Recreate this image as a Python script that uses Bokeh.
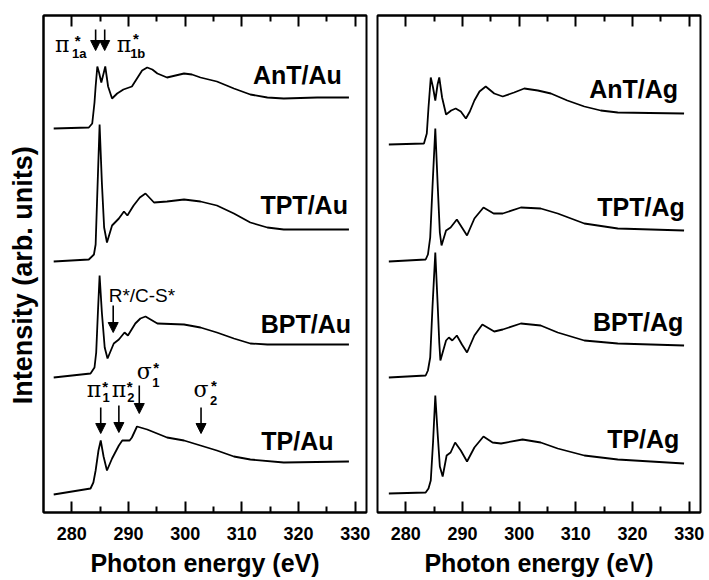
from bokeh.plotting import figure
from bokeh.layouts import row, column
from bokeh.models import Range1d, LinearAxis, FixedTicker, Arrow, NormalHead
from bokeh.core.properties import value
from bokeh.embed import file_html
from bokeh.resources import INLINE

# ---------------- data (photon energy in eV, intensity in arb. units, stacked) -------------
ant_au_e = [276.8, 283.0, 283.6, 284.0, 284.2, 284.5, 284.8, 285.2, 285.6, 285.9, 286.4, 287.1, 288.0,
            289.1, 290.6, 291.5, 292.4, 293.3, 294.2, 295.1, 296.8, 298.3, 299.8, 301.2, 302.7, 305.6,
            308.6, 311.5, 314.5, 317.4, 323.3, 328.9]
ant_au_i = [38.4, 38.5, 38.9, 41.0, 42.6, 44.6, 44.0, 43.0, 43.9, 44.6, 42.6, 41.4, 41.9,
            42.3, 42.6, 43.4, 44.2, 44.5, 44.3, 43.9, 43.5, 43.7, 43.9, 43.8, 43.5, 43.1,
            42.4, 41.8, 41.5, 41.4, 41.5, 41.5]

tpt_au_e = [276.8, 283.0, 283.9, 284.2, 284.5, 284.9, 285.3, 285.7, 286.2, 287.1, 288.3, 289.2,
            289.8, 290.9, 292.0, 293.0, 294.5, 296.8, 299.8, 302.7, 305.6, 308.6, 311.5, 314.5,
            317.4, 328.9]
tpt_au_i = [25.1, 25.3, 25.8, 26.8, 32.0, 38.8, 33.0, 28.5, 27.0, 28.7, 29.4, 30.1,
            29.7, 30.7, 31.5, 31.9, 31.0, 31.1, 31.3, 31.1, 30.7, 29.9, 29.0, 28.5,
            28.3, 28.3]

bpt_au_e = [276.8, 283.3, 284.0, 284.3, 284.6, 284.9, 285.3, 285.8, 286.3, 287.4, 288.3, 289.3,
            289.9, 291.2, 292.1, 293.0, 295.1, 299.8, 302.7, 305.6, 308.6, 311.5, 314.5, 328.9]
bpt_au_i = [13.5, 13.9, 14.5, 16.0, 20.0, 23.7, 20.0, 16.5, 15.4, 16.9, 17.3, 18.0,
            17.7, 18.9, 19.4, 19.6, 18.9, 18.8, 18.5, 18.0, 17.4, 16.9, 16.8, 16.8]

tp_au_e = [276.8, 283.3, 283.8, 284.2, 284.7, 285.1, 285.6, 286.2, 287.1, 288.3, 288.9, 290.2,
           290.6, 291.5, 293.3, 296.8, 299.8, 302.7, 305.6, 308.6, 311.5, 317.4, 328.9]
tp_au_i = [1.8, 2.4, 3.0, 4.2, 6.2, 7.2, 5.6, 4.2, 5.4, 6.7, 7.2, 7.2,
           7.5, 8.6, 8.3, 7.5, 7.2, 6.7, 6.2, 5.6, 5.3, 5.0, 5.1]

ant_ag_e = [277.0, 283.2, 283.7, 284.0, 284.4, 284.8, 285.2, 285.6, 285.9, 286.4, 287.1, 288.0,
            288.8, 289.7, 290.6, 291.3, 292.1, 293.0, 294.1, 295.6, 297.1, 299.1, 300.9, 303.3,
            305.6, 308.5, 311.5, 314.4, 317.4, 323.0, 329.1]
ant_ag_i = [36.8, 36.9, 37.9, 40.5, 43.5, 42.5, 41.2, 42.8, 43.5, 41.5, 39.8, 40.2,
            40.4, 40.1, 39.4, 40.1, 41.2, 42.1, 42.6, 41.9, 41.6, 42.0, 42.4, 42.2,
            41.9, 41.2, 40.6, 40.2, 40.0, 39.95, 39.9]

tpt_ag_e = [277.0, 283.5, 283.9, 284.3, 284.7, 285.2, 285.6, 286.0, 286.3, 287.1, 287.9, 289.0,
            289.9, 290.8, 292.1, 293.7, 295.5, 297.1, 300.3, 303.8, 306.8, 311.5, 317.4, 329.1]
tpt_ag_i = [25.1, 25.3, 25.8, 27.5, 32.5, 38.4, 33.0, 28.0, 26.7, 28.2, 28.5, 29.3,
            28.5, 27.7, 29.4, 30.5, 29.9, 29.9, 30.5, 30.4, 29.9, 28.9, 28.4, 28.2]

bpt_ag_e = [277.0, 283.5, 283.9, 284.3, 284.7, 285.2, 285.6, 285.9, 286.1, 287.1, 287.6, 288.2,
            289.0, 289.9, 290.8, 292.1, 293.5, 295.6, 297.1, 300.3, 303.8, 306.8, 311.5, 317.4, 329.1]
bpt_ag_i = [13.5, 13.7, 14.2, 15.5, 20.5, 26.0, 21.0, 17.0, 15.2, 17.2, 17.5, 17.2,
            17.7, 16.8, 16.0, 17.7, 18.8, 18.1, 18.3, 18.9, 18.7, 18.0, 17.2, 16.9, 16.7]

tp_ag_e = [277.0, 283.5, 284.0, 284.4, 284.8, 285.2, 285.6, 286.0, 286.5, 287.2, 287.9, 288.7,
           289.7, 290.8, 292.1, 293.7, 295.3, 296.8, 300.6, 303.8, 306.8, 311.5, 317.4, 329.1]
tp_ag_i = [1.9, 2.0, 2.4, 3.2, 7.0, 11.7, 8.0, 4.6, 3.6, 5.7, 6.0, 7.0,
           6.2, 5.1, 6.5, 7.6, 7.0, 6.9, 7.3, 7.0, 6.4, 5.7, 5.3, 4.9]

au_names = ["AnT/Au", "TPT/Au", "BPT/Au", "TP/Au"]
au_name_x = [319.8, 321.0, 321.3, 319.8]
au_name_y = [43.8, 30.8, 18.9, 7.2]
ag_names = ["AnT/Ag", "TPT/Ag", "BPT/Ag", "TP/Ag"]
ag_name_x = [320.2, 321.5, 321.0, 321.9]
ag_name_y = [42.4, 30.6, 19.1, 7.4]

x_ticks = [280, 290, 300, 310, 320, 330]
x_minor = [285, 295, 305, 315, 325]
x_title = "Photon energy (eV)"
y_title = "Intensity (arb. units)"

# annotation glyphs (left panel)
greek_text = ["π", "π", "π", "π", "σ", "σ"]
greek_x = [277.05, 287.94, 282.65, 287.06, 291.47, 301.46]
greek_y = [46.8, 46.8, 12.3, 12.3, 14.1, 12.3]
star_x = [280.5, 290.8, 285.35, 289.67, 294.35, 304.58]
star_y = [47.2, 47.4, 12.6, 12.6, 14.5, 12.7]
sub_text = ["1a", "1b", "1", "2", "1", "2"]
sub_x = [280.05, 290.29, 285.43, 289.76, 294.17, 304.4]
sub_y = [45.9, 45.9, 11.5, 11.5, 13.0, 11.2]

arrow_x = [284.2, 285.8, 285.1, 288.3, 291.9, 302.8, 287.3]
arrow_y0 = [48.3, 48.3, 10.5, 10.7, 12.7, 10.5, 20.7]
arrow_y1 = [46.2, 46.2, 7.9, 8.0, 9.9, 7.9, 18.0]

rc_text = "R*/C-S*"
rc_x, rc_y = 286.5, 21.7

FONT = value("Liberation Sans")
PANEL_H = 548
STRIP_H = 580 - PANEL_H


def make_panel(width, border_left, border_right, series, names, nx, ny, ylabel=None):
    p = figure(width=width, height=PANEL_H, x_range=Range1d(275, 332), y_range=Range1d(0, 49.7),
               output_backend="svg", toolbar_location=None,
               min_border_left=border_left, min_border_right=border_right,
               min_border_top=15, min_border_bottom=PANEL_H - 512,
               y_axis_location="left" if ylabel else None)
    p.grid.visible = False
    p.outline_line_color = "black"
    p.outline_line_width = 2
    p.background_fill_color = "white"
    p.border_fill_color = "white"

    ticker = FixedTicker(ticks=x_ticks, minor_ticks=x_minor)
    xa = p.xaxis[0]
    xa.ticker = ticker
    xa.axis_line_width = 2
    xa.major_tick_in = 11
    xa.major_tick_out = 0
    xa.minor_tick_in = 6
    xa.minor_tick_out = 0
    xa.major_tick_line_width = 2
    xa.minor_tick_line_width = 2
    xa.major_label_text_font = "Liberation Sans"
    xa.major_label_text_font_style = "bold"
    xa.major_label_text_font_size = "18px"
    xa.major_label_text_color = "black"
    xa.major_label_standoff = 14

    top = LinearAxis(ticker=FixedTicker(ticks=x_ticks, minor_ticks=x_minor),
                     axis_line_width=2, major_tick_in=11, major_tick_out=0,
                     minor_tick_in=6, minor_tick_out=0,
                     major_tick_line_width=2, minor_tick_line_width=2,
                     major_label_text_font_size="0px", major_label_standoff=0)
    p.add_layout(top, "above")

    if ylabel:
        ya = p.yaxis[0]
        ya.ticker = FixedTicker(ticks=[])
        ya.axis_line_width = 2
        ya.major_tick_in = 0
        ya.major_tick_out = 0
        ya.minor_tick_in = 0
        ya.minor_tick_out = 0
        ya.major_label_text_font_size = "0px"
        ya.major_label_standoff = 0
        ya.axis_label = ylabel
        ya.axis_label_text_font = "Liberation Sans"
        ya.axis_label_text_font_style = "bold"
        ya.axis_label_text_font_size = "27px"
        ya.axis_label_text_color = "black"
        ya.axis_label_standoff = 6

    for e, i in series:
        p.line(e, i, line_color="black", line_width=1.8)

    p.text(x=nx, y=ny, text=names, text_font=FONT, text_font_style="bold",
           text_font_size="25px", text_align="center", text_baseline="alphabetic",
           text_color="black")
    return p


def make_strip(width, border_left, border_right):
    # thin strip under a panel that carries the x-axis title
    s = figure(width=width, height=STRIP_H, x_range=Range1d(275, 332), y_range=Range1d(0, STRIP_H),
               output_backend="svg", toolbar_location=None,
               min_border_left=border_left, min_border_right=border_right,
               min_border_top=0, min_border_bottom=0,
               x_axis_location=None, y_axis_location=None)
    s.grid.visible = False
    s.outline_line_color = None
    s.background_fill_color = "white"
    s.border_fill_color = "white"
    s.text(x=[303.5], y=[STRIP_H - 14.5], text=[x_title], text_font=FONT, text_font_style="bold",
           text_font_size="25px", text_align="center", text_baseline="alphabetic",
           text_color="black")
    return s


left = make_panel(371, 43, 5,
                  [(ant_au_e, ant_au_i), (tpt_au_e, tpt_au_i), (bpt_au_e, bpt_au_i), (tp_au_e, tp_au_i)],
                  au_names, au_name_x, au_name_y, ylabel=y_title + "\u00a0\u00a0\u00a0")
right = make_panel(338, 6, 9,
                   [(ant_ag_e, ant_ag_i), (tpt_ag_e, tpt_ag_i), (bpt_ag_e, bpt_ag_i), (tp_ag_e, tp_ag_i)],
                   ag_names, ag_name_x, ag_name_y)

# annotations on left panel
left.text(x=greek_x, y=greek_y, text=greek_text, text_font=value("DejaVu Serif"),
          text_font_size="22px", text_align="left", text_baseline="alphabetic", text_color="black")
left.text(x=star_x, y=star_y, text=["*"] * len(star_x), text_font=FONT, text_font_style="bold",
          text_font_size="15px", text_align="left", text_baseline="alphabetic", text_color="black")
left.text(x=sub_x, y=sub_y, text=sub_text, text_font=FONT, text_font_style="bold",
          text_font_size="13px", text_align="left", text_baseline="alphabetic", text_color="black")
left.text(x=[rc_x], y=[rc_y], text=[rc_text], text_font=FONT, text_font_size="19px",
          text_align="left", text_baseline="alphabetic", text_color="black")

for ax, a0, a1 in zip(arrow_x, arrow_y0, arrow_y1):
    left.add_layout(Arrow(end=NormalHead(size=10, fill_color="black", line_color="black", line_width=1),
                          x_start=ax, y_start=a0, x_end=ax, y_end=a1,
                          line_color="black", line_width=1.6))

layout = column(row(left, right), row(make_strip(371, 43, 5), make_strip(338, 6, 9)))
open("out.html", "w").write(file_html(layout, INLINE))
